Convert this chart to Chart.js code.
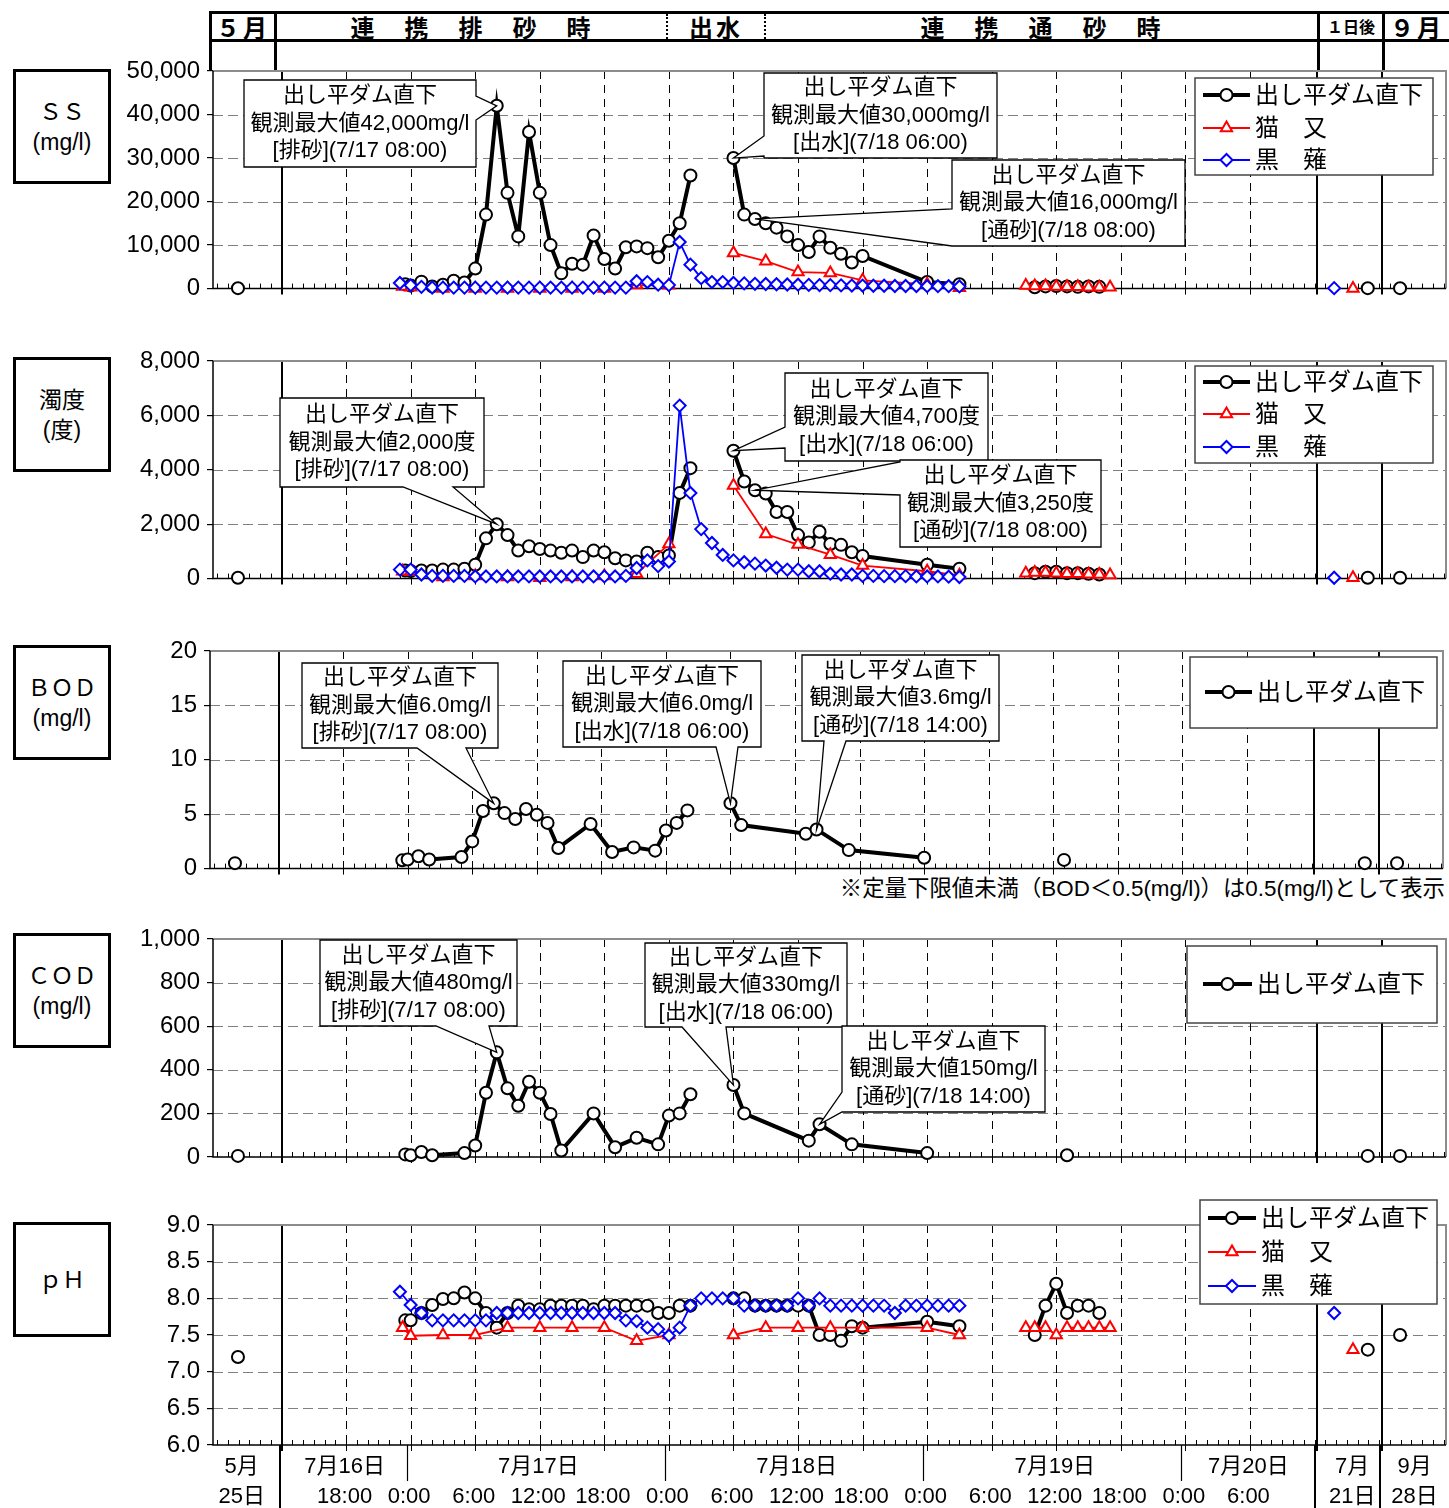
<!DOCTYPE html>
<html lang="ja">
<head>
<meta charset="utf-8">
<title>出し平ダム直下 水質経時変化</title>
<script src="https://cdn.jsdelivr.net/npm/chart.js@4.4.1/dist/chart.umd.min.js"></script>
<style>
  body { margin: 0; background: #fff; }
  #page { position: relative; width: 1449px; height: 1508px; overflow: hidden;
          font-family: "Liberation Sans", "Noto Sans CJK JP", sans-serif; color: #000; }
  canvas.panel { position: absolute; left: 0; }
  .hl { position: absolute; height: 3px; background: #000; }
  .vl { position: absolute; width: 3px; background: #000; }
  .dl { position: absolute; width: 0; border-left: 2px dotted #000; }
  .ht { position: absolute; top: 14px; height: 25px; line-height: 25px; text-align: center;
        font-family: "Noto Sans CJK JP", sans-serif; font-weight: 700; font-size: 24px; letter-spacing: 3px; }
  .lb { position: absolute; left: 13px; width: 92px; height: 109px; border: 3px solid #000;
        display: flex; flex-direction: column; justify-content: center; align-items: center;
        font-family: "Liberation Sans", "Noto Sans CJK JP", sans-serif; font-size: 23px; line-height: 30px; }
  #note { position: absolute; right: 4px; top: 876px; font-size: 22.4px; line-height: 26px;
          font-family: "Liberation Sans", "Noto Sans CJK JP", sans-serif; white-space: nowrap; }
</style>
</head>
<body>
<div id="page">
  <!-- header table -->
  <div class="hl" style="left:209px;top:11px;width:1240px"></div>
  <div class="hl" style="left:209px;top:39px;width:1240px"></div>
  <div class="vl" style="left:209px;top:11px;height:60px"></div>
  <div class="vl" style="left:274px;top:11px;height:60px"></div>
  <div class="vl" style="left:1317px;top:11px;height:60px"></div>
  <div class="vl" style="left:1382px;top:11px;height:60px"></div>
  <div class="dl" style="left:666px;top:14px;height:25px"></div>
  <div class="dl" style="left:764px;top:14px;height:25px"></div>
  <div class="ht" style="left:212px;width:62px">５月</div>
  <div class="ht" style="left:277px;width:390px">連　携　排　砂　時</div>
  <div class="ht" style="left:668px;width:96px">出水</div>
  <div class="ht" style="left:767px;width:550px">連　携　通　砂　時</div>
  <div class="ht" style="left:1320px;width:62px;font-size:16px;letter-spacing:0">１日後</div>
  <div class="ht" style="left:1385px;width:64px">９月</div>

  <!-- left captions -->
  <div class="lb" style="top:69px"><div>ＳＳ</div><div>(mg/l)</div></div>
  <div class="lb" style="top:357px"><div>濁度</div><div>(度)</div></div>
  <div class="lb" style="top:645px"><div>ＢＯＤ</div><div>(mg/l)</div></div>
  <div class="lb" style="top:933px"><div>ＣＯＤ</div><div>(mg/l)</div></div>
  <div class="lb" style="top:1222px"><div>ｐＨ</div></div>

  <div id="note">※定量下限値未満（BOD＜0.5(mg/l)）は0.5(mg/l)として表示</div>

  <canvas class="panel" id="cSS"></canvas>
  <canvas class="panel" id="cTurb"></canvas>
  <canvas class="panel" id="cBOD"></canvas>
  <canvas class="panel" id="cCOD"></canvas>
  <canvas class="panel" id="cPH"></canvas>
</div>

<script>
// ---- series names ----
const SERIES_NAMES = ['出し平ダム直下', '猫　又', '黒　薙'];

// ---- sampling times ('—' = break in the line) ----
const T_DAM = ['5/25', '—',
  '7/16 23:30', '7/17 0:00', '7/17 1:00', '7/17 2:00', '7/17 3:00', '7/17 4:00', '7/17 5:00', '7/17 6:00', '7/17 7:00', '7/17 8:00', '7/17 9:00', '7/17 10:00', '7/17 11:00', '7/17 12:00',
  '7/17 13:00', '7/17 14:00', '7/17 15:00', '7/17 16:00', '7/17 17:00', '7/17 18:00', '7/17 19:00', '7/17 20:00', '7/17 21:00', '7/17 22:00', '7/17 23:00',
  '7/18 0:00', '7/18 1:00', '7/18 2:00', '—',
  '7/18 6:00', '7/18 7:00', '7/18 8:00', '7/18 9:00', '7/18 10:00', '7/18 11:00', '7/18 12:00', '7/18 13:00', '7/18 14:00', '7/18 15:00', '7/18 16:00', '7/18 17:00', '7/18 18:00',
  '7/19 0:00', '7/19 3:00', '—',
  '7/19 10:00', '7/19 11:00', '7/19 12:00', '7/19 13:00', '7/19 14:00', '7/19 15:00', '7/19 16:00', '—',
  '7/21 19:00', '—', '9/28'];

const T_NEKO = ['7/16 23:15', '7/17 0:00', '7/17 3:00', '7/17 6:00', '7/17 9:00', '7/17 12:00', '7/17 15:00', '7/17 18:00', '7/17 21:00', '7/18 0:00', '—',
  '7/18 6:00', '7/18 9:00', '7/18 12:00', '7/18 15:00', '7/18 18:00', '7/19 0:00', '7/19 3:00', '—',
  '7/19 9:10', '7/19 10:00', '7/19 11:00', '7/19 12:00', '7/19 13:00', '7/19 14:00', '7/19 15:00', '7/19 16:00', '7/19 17:00', '—',
  '7/21 13:30'];

const T_KURO = ['7/16 23:00',
  '7/17 0:00', '7/17 1:00', '7/17 2:00', '7/17 3:00', '7/17 4:00', '7/17 5:00', '7/17 6:00', '7/17 7:00', '7/17 8:00', '7/17 9:00', '7/17 10:00', '7/17 11:00',
  '7/17 12:00', '7/17 13:00', '7/17 14:00', '7/17 15:00', '7/17 16:00', '7/17 17:00', '7/17 18:00', '7/17 19:00', '7/17 20:00', '7/17 21:00', '7/17 22:00', '7/17 23:00',
  '7/18 0:00', '7/18 1:00', '7/18 2:00', '7/18 3:00', '7/18 4:00', '7/18 5:00', '7/18 6:00', '7/18 7:00', '7/18 8:00', '7/18 9:00', '7/18 10:00', '7/18 11:00',
  '7/18 12:00', '7/18 13:00', '7/18 14:00', '7/18 15:00', '7/18 16:00', '7/18 17:00', '7/18 18:00', '7/18 19:00', '7/18 20:00', '7/18 21:00', '7/18 22:00', '7/18 23:00',
  '7/19 0:00', '7/19 1:00', '7/19 2:00', '7/19 3:00', '—',
  '7/21 6:30'];

const T_LAB = ['5/25', '—',
  '7/16 23:30', '7/17 0:00', '7/17 1:00', '7/17 2:00', '7/17 5:00', '7/17 6:00', '7/17 7:00', '7/17 8:00', '7/17 9:00', '7/17 10:00', '7/17 11:00',
  '7/17 12:00', '7/17 13:00', '7/17 14:00', '7/17 17:00', '7/17 19:00', '7/17 21:00', '7/17 23:00', '7/18 0:00', '7/18 1:00', '7/18 2:00', '—',
  '7/18 6:00', '7/18 7:00', '7/18 13:00', '7/18 14:00', '7/18 17:00', '7/19 0:00', '—',
  '7/19 13:00', '—', '7/21 19:00', '—', '9/28'];

// ---- SS (mg/l) ----
const SS_DAM = [100, null,
  1000, 700, 1600, 500, 900, 1800, 1400, 4600, 17000, 42000, 22000, 12000, 36000, 22000,
  10000, 3500, 5700, 5500, 12200, 6800, 4600, 9500, 9700, 9300, 7200,
  11000, 15000, 26000, null,
  30000, 17000, 16000, 15000, 14000, 12000, 10000, 8400, 12000, 9400, 8000, 6000, 7500,
  1500, 1000, null,
  300, 500, 600, 500, 400, 500, 400, null,
  100, null, 100];
const SS_NEKO = [500, 300, 50, 50, 50, 50, 50, 50, 800, 760, null,
  8200, 6300, 3800, 3600, 1900, 1000, 200, null,
  700, 600, 600, 500, 400, 400, 300, 300, 300, null,
  50];
const SS_KURO = [1290,
  760, 400, 250, 230, 230, 230, 230, 230, 230, 230, 230, 230,
  230, 230, 230, 230, 230, 230, 230, 230, 230, 1700, 1500, 900,
  800, 10700, 5500, 2400, 1500, 1500, 1300, 1200, 1100, 1050, 1000, 950,
  900, 850, 800, 800, 750, 700, 700, 650, 650, 600, 600, 600,
  550, 550, 550, 500, null,
  100];

// ---- 濁度 (度) ----
const TURB_DAM = [30, null,
  300, 280, 300, 300, 330, 330, 360, 510, 1480, 2000, 1600, 1030, 1190, 1090,
  1030, 950, 1030, 790, 1030, 970, 750, 670, 630, 950, 790,
  850, 3150, 4060, null,
  4700, 3570, 3250, 3130, 2450, 2450, 1600, 1330, 1720, 1270, 1240, 970, 830,
  510, 360, null,
  200, 250, 250, 200, 200, 180, 150, null,
  30, null, 30];
const TURB_NEKO = [270, 250, 60, 100, 60, 30, 60, 100, 180, 1270, null,
  3420, 1640, 1250, 880, 480, 270, 120, null,
  200, 220, 220, 200, 180, 180, 160, 150, 130, null,
  30];
const TURB_KURO = [330,
  330, 150, 100, 100, 100, 100, 80, 80, 80, 80, 80, 80,
  80, 80, 80, 80, 80, 80, 80, 80, 100, 390, 670, 460,
  630, 6360, 3150, 1820, 1310, 870, 670, 600, 550, 480, 400, 330,
  330, 270, 270, 180, 150, 150, 100, 100, 90, 90, 90, 80,
  80, 80, 70, 60, null,
  30];

// ---- BOD / COD (mg/l) ----
const BOD_DAM = [0.5, null,
  0.76, 0.83, 1.13, 0.83, 1.07, 2.5, 5.3, 6.0, 5.1, 4.56, 5.48,
  4.95, 4.2, 1.9, 4.1, 1.53, 1.95, 1.65, 3.5, 4.2, 5.35, null,
  6.0, 4.0, 3.2, 3.6, 1.7, 1.0, null,
  0.8, null, 0.5, null, 0.5];
const COD_DAM = [5, null,
  12, 8, 23, 8, 18, 53, 295, 480, 315, 235, 345,
  295, 197, 30, 200, 45, 88, 58, 190, 200, 288, null,
  330, 200, 75, 150, 58, 18, null,
  8, null, 5, null, 5];

// ---- pH ----
const PH_DAM = [7.2, null,
  7.7, 7.7, 7.8, 7.91, 7.99, 8.0, 8.08, 8.0, 7.8, 7.6, 7.8, 7.9, 7.85, 7.85,
  7.9, 7.9, 7.9, 7.9, 7.85, 7.9, 7.9, 7.9, 7.9, 7.9, 7.8,
  7.8, 7.9, 7.9, null,
  8.0, 8.0, 7.9, 7.9, 7.9, 7.9, 7.9, 7.9, 7.5, 7.5, 7.42, 7.62, 7.6,
  7.68, 7.62, null,
  7.5, 7.9, 8.2, 7.8, 7.9, 7.9, 7.8, null,
  7.3, null, 7.5];
const PH_NEKO = [7.6, 7.49, 7.5, 7.5, 7.6, 7.6, 7.6, 7.6, 7.42, 7.5, null,
  7.5, 7.6, 7.6, 7.6, 7.6, 7.6, 7.5, null,
  7.6, 7.6, 7.6, 7.5, 7.6, 7.6, 7.6, 7.6, 7.6, null,
  7.3];
const PH_KURO = [8.09,
  7.91, 7.8, 7.7, 7.7, 7.7, 7.7, 7.7, 7.7, 7.8, 7.8, 7.8, 7.8,
  7.8, 7.8, 7.8, 7.8, 7.8, 7.8, 7.8, 7.8, 7.7, 7.69, 7.6, 7.58,
  7.49, 7.6, 7.9, 8.0, 8.0, 8.0, 8.0, 7.9, 7.9, 7.9, 7.9, 7.9,
  8.0, 7.9, 8.0, 7.9, 7.9, 7.9, 7.9, 7.9, 7.9, 7.8, 7.9, 7.9,
  7.9, 7.9, 7.9, 7.9, null,
  7.8];

// ---- x axis ticks / labels ----
const X_TICK_AT = ['7/16 18:00', '7/17 0:00', '7/17 6:00', '7/17 12:00', '7/17 18:00', '7/18 0:00', '7/18 6:00', '7/18 12:00',
  '7/18 18:00', '7/19 0:00', '7/19 6:00', '7/19 12:00', '7/19 18:00', '7/20 0:00', '7/20 6:00'];
const X_TICK_TEXT = ['18:00', '0:00', '6:00', '12:00', '18:00', '0:00', '6:00', '12:00',
  '18:00', '0:00', '6:00', '12:00', '18:00', '0:00', '6:00'];
const DAY_TEXT = ['7月16日', '7月17日', '7月18日', '7月19日', '7月20日'];
const DAY_AT = ['7/16 18:00', '7/17 12:00', '7/18 12:00', '7/19 12:00', '7/20 6:00'];
const DAY_SPLIT_AT = ['7/17 0:00', '7/18 0:00', '7/19 0:00', '7/20 0:00'];
const SEG_TEXT = [['5月', '25日'], ['7月', '21日'], ['9月', '28日']];
const SEG_AT = [-15.7, 87.5, 93.3];   // label centres of the squeezed columns (hours)

// axis in hours from 7/17 0:00; 5月, 7/21 and 9月 sit in squeezed columns
const XMIN = -18.37, XMAX = 96.22;
const BREAK_H = [-12, 84.2, 90.25];

function hx(s) {
  if (s === '—') return NaN;
  const [md, hm] = s.split(' ');
  const [mo, d] = md.split('/').map(Number);
  let h = 0;
  if (hm) { const [H, M] = hm.split(':').map(Number); h = H + M / 60; }
  if (mo === 5) return -16.05;
  if (mo === 9) return 91.95;
  if (d === 21) return BREAK_H[1] + h / 4;
  return (d - 17) * 24 + h;
}

function pts(times, vals) {
  let prev = XMIN;
  return times.map((t, i) => {
    const h = hx(t);
    if (!isNaN(h)) prev = h;
    return { x: prev, y: vals[i] };
  });
}

const STYLE = [
  { color: '#000', lw: 4, ps: 'circle', r: 6, order: 3 },
  { color: '#ff0000', lw: 1.8, ps: 'triangle', r: 6.5, order: 2 },
  { color: '#0000ff', lw: 1.8, ps: 'rectRot', r: 6, order: 1 }
];

function dataset(k, times, vals) {
  const s = STYLE[k];
  return {
    label: SERIES_NAMES[k], data: pts(times, vals),
    borderColor: s.color, borderWidth: s.lw, pointStyle: s.ps, pointRadius: s.r,
    pointBorderWidth: 2, pointBorderColor: s.color, pointBackgroundColor: '#fff',
    order: s.order, clip: false, tension: 0, spanGaps: false
  };
}

const CJK = '"Liberation Sans", "Noto Sans CJK JP", sans-serif';

function seg(ctx, x1, y1, x2, y2) {
  ctx.beginPath(); ctx.moveTo(x1, y1); ctx.lineTo(x2, y2); ctx.stroke();
}

function drawCallout(chart, c, offY) {
  const { ctx, scales: { x, y } } = chart;
  const idx = c.times.indexOf(c.at);
  const tx = x.getPixelForValue(hx(c.at)), ty = y.getPixelForValue(c.vals[idx]);
  const bx = c.box[0], by = c.box[1] - offY, bw = c.box[2], bh = c.box[3];
  const a = c.side === 'bottom' ? c.base[0] : c.base[0] - offY;
  const b = c.side === 'bottom' ? c.base[1] : c.base[1] - offY;
  ctx.save();
  ctx.beginPath();
  ctx.moveTo(bx, by);
  ctx.lineTo(bx + bw, by);
  if (c.side === 'right') { ctx.lineTo(bx + bw, a); ctx.lineTo(tx, ty); ctx.lineTo(bx + bw, b); }
  ctx.lineTo(bx + bw, by + bh);
  if (c.side === 'bottom') { ctx.lineTo(b, by + bh); ctx.lineTo(tx, ty); ctx.lineTo(a, by + bh); }
  ctx.lineTo(bx, by + bh);
  if (c.side === 'left') { ctx.lineTo(bx, b); ctx.lineTo(tx, ty); ctx.lineTo(bx, a); }
  ctx.closePath();
  ctx.fillStyle = '#fff'; ctx.fill();
  ctx.strokeStyle = '#000'; ctx.lineWidth = 1.3; ctx.stroke();
  ctx.fillStyle = '#000';
  ctx.font = '22px ' + CJK;
  ctx.textAlign = 'center'; ctx.textBaseline = 'middle';
  c.text.forEach((t, i) => ctx.fillText(t, bx + bw / 2, by + bh / 2 + (i - 1) * 27.5));
  ctx.restore();
}

function drawLegend(chart, L, offY) {
  const ctx = chart.ctx;
  const [bx, by, bw, bh] = L.box;
  ctx.save();
  ctx.fillStyle = '#fff'; ctx.fillRect(bx, by - offY, bw, bh);
  ctx.strokeStyle = '#444'; ctx.lineWidth = 1.5; ctx.strokeRect(bx, by - offY, bw, bh);
  L.rows.forEach((ry, k) => {
    const s = STYLE[k], yy = ry - offY;
    ctx.strokeStyle = s.color; ctx.lineWidth = s.lw;
    seg(ctx, L.x0, yy, L.x1, yy);
    ctx.fillStyle = '#fff'; ctx.lineWidth = 2;
    Chart.helpers.drawPoint(ctx, { pointStyle: s.ps, radius: s.r, borderWidth: 2, rotation: 0 }, (L.x0 + L.x1) / 2, yy);
    ctx.fillStyle = '#000';
    ctx.font = '24px ' + CJK;
    ctx.textAlign = 'left'; ctx.textBaseline = 'middle';
    ctx.fillText(SERIES_NAMES[k], L.x1 + 5, yy + 1);
  });
  ctx.restore();
}

const decor = {
  id: 'decor',
  beforeDatasetsDraw(chart) {
    const { ctx, chartArea: a, scales: { x, y } } = chart;
    ctx.save();
    ctx.lineWidth = 1.2; ctx.strokeStyle = '#808080'; ctx.setLineDash([10, 5]);
    y.ticks.forEach(t => {
      if (t.value <= y.min || t.value >= y.max) return;
      const py = Math.round(y.getPixelForValue(t.value)) + 0.5;
      seg(ctx, a.left, py, a.right, py);
    });
    ctx.lineWidth = 1; ctx.strokeStyle = '#000'; ctx.setLineDash([8, 6]);
    X_TICK_AT.forEach(s => {
      const px = Math.round(x.getPixelForValue(hx(s))) + 0.5;
      seg(ctx, px, a.top, px, a.bottom);
    });
    ctx.setLineDash([]);
    X_TICK_AT.forEach(s => {
      const px = Math.round(x.getPixelForValue(hx(s))) + 0.5;
      seg(ctx, px, a.bottom, px, a.bottom + 6);
    });
    ctx.lineWidth = 2;
    BREAK_H.forEach(h => {
      const px = Math.round(x.getPixelForValue(h));
      seg(ctx, px, a.top, px, a.bottom + 6);
    });
    ctx.strokeStyle = '#8c8c8c'; ctx.lineWidth = 2;
    ctx.beginPath(); ctx.moveTo(a.left, a.top); ctx.lineTo(a.right, a.top); ctx.lineTo(a.right, a.bottom); ctx.stroke();
    ctx.strokeStyle = '#000'; ctx.lineWidth = 1.5;
    ctx.beginPath(); ctx.moveTo(a.left, a.top); ctx.lineTo(a.left, a.bottom); ctx.lineTo(a.right, a.bottom); ctx.stroke();
    ctx.lineWidth = 1;
    for (let h = Math.ceil(x.min); h <= x.max; h++) {
      const px = Math.round(x.getPixelForValue(h)) + 0.5;
      seg(ctx, px, a.bottom - 5, px, a.bottom);
    }
    ctx.restore();
  },
  afterDatasetsDraw(chart) {
    const o = chart.options.plugins.decor;
    o.callouts.forEach(c => drawCallout(chart, c, o.offY));
    drawLegend(chart, o.legend, o.offY);
  },
  afterDraw(chart) {
    const o = chart.options.plugins.decor;
    if (!o.axisLabels) return;
    const { ctx, chartArea: a, scales: { x } } = chart;
    const r1 = 1467 - o.offY, r2 = 1497 - o.offY, bottom = chart.height;
    ctx.save();
    ctx.fillStyle = '#000'; ctx.font = '22px ' + CJK;
    ctx.textAlign = 'center'; ctx.textBaseline = 'middle';
    X_TICK_AT.forEach((s, i) => ctx.fillText(X_TICK_TEXT[i], x.getPixelForValue(hx(s)) - 1.5, r2));
    DAY_AT.forEach((s, i) => ctx.fillText(DAY_TEXT[i], x.getPixelForValue(hx(s)) - 1.5, r1));
    SEG_TEXT.forEach((t, i) => {
      const px = x.getPixelForValue(SEG_AT[i]);
      ctx.fillText(t[0], px, r1); ctx.fillText(t[1], px, r2);
    });
    ctx.strokeStyle = '#000'; ctx.lineWidth = 1.2;
    DAY_SPLIT_AT.forEach(s => {
      const px = Math.round(x.getPixelForValue(hx(s))) - 3.5;
      seg(ctx, px, a.bottom, px, r1 + 14);
    });
    ctx.lineWidth = 2;
    BREAK_H.forEach(h => {
      const px = Math.round(x.getPixelForValue(h)) - 2;
      seg(ctx, px, a.bottom, px, bottom);
    });
    ctx.restore();
  }
};

Chart.defaults.font.family = CJK;

const LEG3 = (top, rows) => ({ box: [1195, top, 238, 97], rows, x0: 1203, x1: 1250 });

const PANELS = [
  { el: 'cSS', top: 45, h: 265, plotTop: 71, plotBottom: 292, left: 213, right: 1446,
    yMin: 0, yMax: 50000, step: 10000, fmt: v => v.toLocaleString('en-US'),
    sets: [dataset(0, T_DAM, SS_DAM), dataset(1, T_NEKO, SS_NEKO), dataset(2, T_KURO, SS_KURO)],
    legend: LEG3(78, [95, 128, 160]),
    callouts: [
      { box: [244, 80, 232, 87], side: 'right', base: [96, 120], times: T_DAM, vals: SS_DAM, at: '7/17 8:00',
        text: ['出し平ダム直下', '観測最大値42,000mg/l', '[排砂](7/17 08:00)'] },
      { box: [764, 73, 233, 85], side: 'left', base: [136, 156], times: T_DAM, vals: SS_DAM, at: '7/18 6:00',
        text: ['出し平ダム直下', '観測最大値30,000mg/l', '[出水](7/18 06:00)'] },
      { box: [952, 160, 233, 86], side: 'left', base: [209, 246], times: T_DAM, vals: SS_DAM, at: '7/18 8:00',
        text: ['出し平ダム直下', '観測最大値16,000mg/l', '[通砂](7/18 08:00)'] }
    ] },
  { el: 'cTurb', top: 330, h: 270, plotTop: 361, plotBottom: 580, left: 213, right: 1446,
    yMin: 0, yMax: 8000, step: 2000, fmt: v => v.toLocaleString('en-US'),
    sets: [dataset(0, T_DAM, TURB_DAM), dataset(1, T_NEKO, TURB_NEKO), dataset(2, T_KURO, TURB_KURO)],
    legend: LEG3(366, [382, 414, 447]),
    callouts: [
      { box: [280, 398, 204, 89], side: 'bottom', base: [403, 453], times: T_DAM, vals: TURB_DAM, at: '7/17 8:00',
        text: ['出し平ダム直下', '観測最大値2,000度', '[排砂](7/17 08:00)'] },
      { box: [785, 373, 203, 88], side: 'left', base: [427, 448], times: T_DAM, vals: TURB_DAM, at: '7/18 6:00',
        text: ['出し平ダム直下', '観測最大値4,700度', '[出水](7/18 06:00)'] },
      { box: [900, 460, 201, 87], side: 'left', base: [462, 495], times: T_DAM, vals: TURB_DAM, at: '7/18 8:00',
        text: ['出し平ダム直下', '観測最大値3,250度', '[通砂](7/18 08:00)'] }
    ] },
  { el: 'cBOD', top: 625, h: 265, plotTop: 651, plotBottom: 870, left: 210, right: 1443,
    yMin: 0, yMax: 20, step: 5, fmt: v => String(v),
    sets: [dataset(0, T_LAB, BOD_DAM)],
    legend: { box: [1190, 657, 247, 71], rows: [692], x0: 1205, x1: 1252 },
    callouts: [
      { box: [302, 663, 196, 85], side: 'bottom', base: [417, 466], times: T_LAB, vals: BOD_DAM, at: '7/17 8:00',
        text: ['出し平ダム直下', '観測最大値6.0mg/l', '[排砂](7/17 08:00)'] },
      { box: [563, 661, 198, 86], side: 'bottom', base: [716, 738], times: T_LAB, vals: BOD_DAM, at: '7/18 6:00',
        text: ['出し平ダム直下', '観測最大値6.0mg/l', '[出水](7/18 06:00)'] },
      { box: [802, 655, 197, 86], side: 'bottom', base: [824, 846], times: T_LAB, vals: BOD_DAM, at: '7/18 14:00',
        text: ['出し平ダム直下', '観測最大値3.6mg/l', '[通砂](7/18 14:00)'] }
    ] },
  { el: 'cCOD', top: 905, h: 275, plotTop: 939, plotBottom: 1157, left: 213, right: 1446,
    yMin: 0, yMax: 1000, step: 200, fmt: v => v.toLocaleString('en-US'),
    sets: [dataset(0, T_LAB, COD_DAM)],
    legend: { box: [1187, 946, 250, 77], rows: [984], x0: 1203, x1: 1252 },
    callouts: [
      { box: [320, 940, 197, 86], side: 'bottom', base: [436, 489], times: T_LAB, vals: COD_DAM, at: '7/17 8:00',
        text: ['出し平ダム直下', '観測最大値480mg/l', '[排砂](7/17 08:00)'] },
      { box: [645, 943, 202, 84], side: 'bottom', base: [682, 726], times: T_LAB, vals: COD_DAM, at: '7/18 6:00',
        text: ['出し平ダム直下', '観測最大値330mg/l', '[出水](7/18 06:00)'] },
      { box: [842, 1026, 203, 86], side: 'left', base: [1092, 1112], times: T_LAB, vals: COD_DAM, at: '7/18 14:00',
        text: ['出し平ダム直下', '観測最大値150mg/l', '[通砂](7/18 14:00)'] }
    ] },
  { el: 'cPH', top: 1190, h: 318, plotTop: 1225, plotBottom: 1445, left: 213, right: 1446,
    yMin: 6, yMax: 9, step: 0.5, fmt: v => v.toFixed(1), axisLabels: true,
    sets: [dataset(0, T_DAM, PH_DAM), dataset(1, T_NEKO, PH_NEKO), dataset(2, T_KURO, PH_KURO)],
    legend: { box: [1200, 1200, 237, 104], rows: [1218, 1252, 1286], x0: 1208, x1: 1256 },
    callouts: [] }
];

PANELS.forEach(p => {
  const cv = document.getElementById(p.el);
  cv.width = 1449; cv.height = p.h;
  cv.style.top = p.top + 'px'; cv.style.width = '1449px'; cv.style.height = p.h + 'px';
  new Chart(cv, {
    type: 'line',
    data: { datasets: p.sets },
    options: {
      responsive: false, animation: false, devicePixelRatio: 1,
      layout: { autoPadding: false, padding: { top: p.plotTop - p.top, bottom: p.top + p.h - p.plotBottom, left: 0, right: 1449 - p.right } },
      scales: {
        x: { type: 'linear', min: XMIN, max: XMAX, display: false },
        y: {
          min: p.yMin, max: p.yMax,
          ticks: { stepSize: p.step, color: '#000', padding: 7, font: { size: 24, family: CJK }, callback: p.fmt },
          grid: { drawOnChartArea: false, color: '#000', tickColor: '#000', tickLength: 6, lineWidth: 1.2 },
          border: { display: false },
          afterFit(s) { s.width = p.left; }
        }
      },
      plugins: {
        legend: { display: false }, tooltip: { enabled: false },
        decor: { offY: p.top, callouts: p.callouts, legend: p.legend, axisLabels: !!p.axisLabels }
      }
    },
    plugins: [decor]
  });
});
</script>
</body>
</html>
